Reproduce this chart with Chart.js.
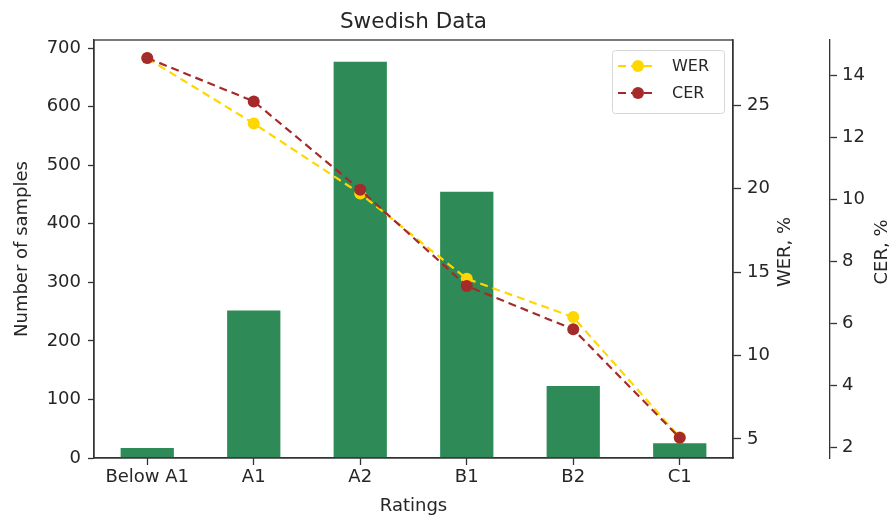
<!DOCTYPE html>
<html>
<head>
<meta charset="utf-8">
<script src="https://cdn.jsdelivr.net/npm/chart.js@4.4.0/dist/chart.umd.min.js"></script>
<style>
  html, body { margin: 0; padding: 0; background: #fff; }
  #wrap { width: 894px; height: 517px; position: relative; }
</style>
</head>
<body>
<div id="wrap"><canvas id="chart"></canvas></div>
<script>
// data
var ratings = ["Below A1", "A1", "A2", "B1", "B2", "C1"];
var samples = [17, 252, 677, 455, 123, 25];
var wer = [27.8, 23.9, 19.7, 14.6, 12.3, 5.1];
var cer = [14.55, 13.15, 10.3, 7.2, 5.8, 2.3];

var samplesTicks = [0, 100, 200, 300, 400, 500, 600, 700];
var werTicks = [5, 10, 15, 20, 25];
var cerTicks = [2, 4, 6, 8, 10, 12, 14];

var FONT = "'DejaVu Sans', sans-serif";
var TXT = "#262626";
var AX = "#333333";

function fixTicks(list) {
  return function(scale) {
    scale.ticks = list.map(function(v) { return { value: v }; });
  };
}

// title over plot, box around plot, right axis titles, legend inside upper right
var framePlugin = {
  id: 'frame',
  afterDraw: function(chart) {
    var ctx = chart.ctx, a = chart.chartArea;
    ctx.save();
    ctx.strokeStyle = AX;
    ctx.lineWidth = 1.3;
    ctx.strokeRect(a.left, a.top, a.right - a.left, a.bottom - a.top);

    ctx.fillStyle = TXT;
    ctx.textAlign = "center";
    ctx.textBaseline = "alphabetic";
    ctx.font = "21.5px " + FONT;
    ctx.fillText("Swedish Data", (a.left + a.right) / 2, 28);

    // right axis titles, turned like the left one
    ctx.font = "18px " + FONT;
    ctx.textBaseline = "middle";
    [["WER, %", chart.scales.yWER.left + 52], ["CER, %", chart.scales.yCER.left + 52]].forEach(function(t) {
      ctx.save();
      ctx.translate(t[1], (a.top + a.bottom) / 2 + 3);
      ctx.rotate(-Math.PI / 2);
      ctx.fillText(t[0], 0, 0);
      ctx.restore();
    });

    var bx = a.right - 121, by = a.top + 10, bw = 112, bh = 63;
    ctx.fillStyle = "rgba(255,255,255,0.8)";
    ctx.strokeStyle = "#d6d6d6";
    ctx.lineWidth = 1;
    ctx.beginPath();
    ctx.roundRect(bx + 0.5, by + 0.5, bw, bh, 3);
    ctx.fill();
    ctx.stroke();

    var items = [["WER", "#ffd700"], ["CER", "#a52a2a"]];
    ctx.textAlign = "left";
    items.forEach(function(it, i) {
      var y = by + 16 + i * 27;
      ctx.strokeStyle = it[1];
      ctx.lineWidth = 2.2;
      ctx.setLineDash([8, 5]);
      ctx.beginPath();
      ctx.moveTo(bx + 6, y);
      ctx.lineTo(bx + 45, y);
      ctx.stroke();
      ctx.setLineDash([]);
      ctx.fillStyle = it[1];
      ctx.beginPath();
      ctx.arc(bx + 26, y, 6, 0, Math.PI * 2);
      ctx.fill();
      ctx.fillStyle = TXT;
      ctx.font = "16px " + FONT;
      ctx.fillText(it[0], bx + 60, y + 1);
    });
    ctx.restore();
  }
};

new Chart(document.getElementById("chart"), {
  type: 'bar',
  data: {
    labels: ratings,
    datasets: [{
      label: "CER",
      type: 'line',
      data: cer,
      yAxisID: 'yCER',
      borderColor: "#a52a2a",
      backgroundColor: "#a52a2a",
      pointBackgroundColor: "#a52a2a",
      pointBorderWidth: 0,
      pointRadius: 6,
      borderWidth: 2.2,
      borderDash: [8, 5],
      tension: 0,
      order: 0
    }, {
      label: "WER",
      type: 'line',
      data: wer,
      yAxisID: 'yWER',
      borderColor: "#ffd700",
      backgroundColor: "#ffd700",
      pointBackgroundColor: "#ffd700",
      pointBorderWidth: 0,
      pointRadius: 6,
      borderWidth: 2.2,
      borderDash: [8, 5],
      tension: 0,
      order: 1
    }, {
      label: "Number of samples",
      data: samples,
      yAxisID: 'y',
      backgroundColor: "#2e8b57",
      categoryPercentage: 1.0,
      barPercentage: 0.5,
      order: 2
    }]
  },
  options: {
    responsive: true,
    maintainAspectRatio: false,
    animation: false,
    layout: { padding: { top: 40 } },
    plugins: {
      legend: { display: false },
      tooltip: { enabled: false },
      title: { display: false }
    },
    scales: {
      x: {
        offset: true,
        grid: { display: true, drawOnChartArea: false, offset: false, tickLength: 7, color: AX, tickWidth: 1.3 },
        border: { color: AX, width: 1.3 },
        ticks: { color: TXT, font: { family: FONT, size: 18 }, padding: 2 },
        title: { display: true, text: "Ratings", color: TXT, font: { family: FONT, size: 18 }, padding: { top: 0, bottom: 0 } },
        afterFit: function(s) { s.height = 59; }
      },
      y: {
        position: 'left',
        min: 0,
        max: 714,
        afterBuildTicks: fixTicks(samplesTicks),
        grid: { drawOnChartArea: false, tickLength: 6, color: AX, tickWidth: 1.3 },
        border: { color: AX, width: 1.3 },
        ticks: { color: TXT, font: { family: FONT, size: 18 }, padding: 7 },
        title: { display: true, text: "Number of samples", color: TXT, font: { family: FONT, size: 18 }, padding: { top: 12, bottom: 0 } },
        afterFit: function(s) { s.width = 94; }
      },
      yWER: {
        position: 'right',
        weight: 0,
        min: 3.86,
        max: 28.9,
        afterBuildTicks: fixTicks(werTicks),
        grid: { drawOnChartArea: false, tickLength: 8, color: AX, tickWidth: 1.3 },
        border: { color: AX, width: 1.3 },
        ticks: { color: TXT, font: { family: FONT, size: 18 }, padding: 6 },
        afterFit: function(s) { s.width = 97; }
      },
      yCER: {
        position: 'right',
        weight: 1,
        min: 1.65,
        max: 15.13,
        afterBuildTicks: fixTicks(cerTicks),
        grid: { drawOnChartArea: false, tickLength: 7, color: AX, tickWidth: 1.3 },
        border: { color: AX, width: 1.3 },
        ticks: { color: TXT, font: { family: FONT, size: 18 }, padding: 5 },
        afterFit: function(s) { s.width = 64; }
      }
    }
  },
  plugins: [framePlugin]
});
</script>
</body>
</html>
